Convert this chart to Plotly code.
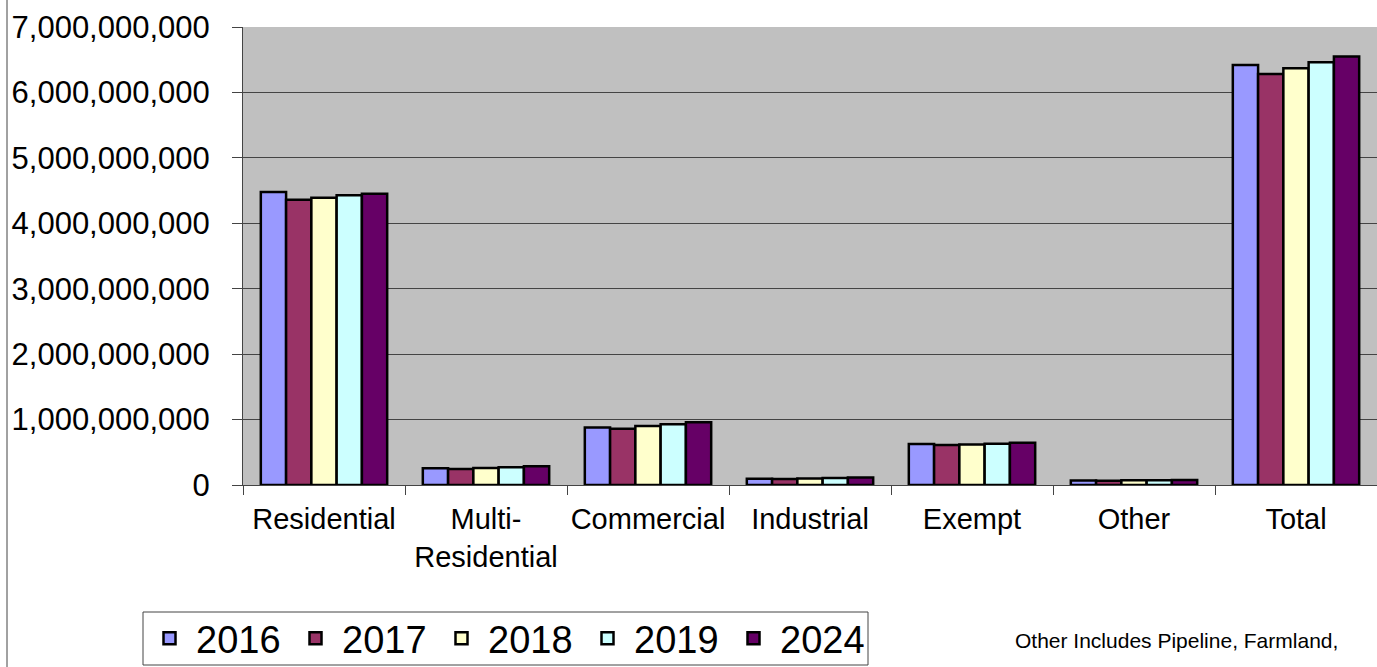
import plotly.graph_objects as go

categories = ["Residential", "Multi-<br>Residential", "Commercial", "Industrial", "Exempt", "Other", "Total"]
years = ["2016", "2017", "2018", "2019", "2024"]
v2016 = [4.48e9, 0.256e9, 0.88e9, 0.097e9, 0.626e9, 0.068e9, 6.42e9]
v2017 = [4.36e9, 0.246e9, 0.86e9, 0.092e9, 0.610e9, 0.066e9, 6.28e9]
v2018 = [4.39e9, 0.260e9, 0.90e9, 0.100e9, 0.620e9, 0.072e9, 6.37e9]
v2019 = [4.43e9, 0.270e9, 0.93e9, 0.108e9, 0.630e9, 0.073e9, 6.46e9]
v2024 = [4.45e9, 0.287e9, 0.96e9, 0.113e9, 0.645e9, 0.075e9, 6.55e9]
series = [v2016, v2017, v2018, v2019, v2024]
colors = ["#9999FF", "#993366", "#FFFFCC", "#CCFFFF", "#660066"]
ytickvals = [0, 1e9, 2e9, 3e9, 4e9, 5e9, 6e9, 7e9]
yticktext = ["0", "1,000,000,000", "2,000,000,000", "3,000,000,000", "4,000,000,000",
             "5,000,000,000", "6,000,000,000", "7,000,000,000"]

FONT = "Arial, Liberation Sans, sans-serif"
PW = 1134.0
PH = 458.0

def px_x(x):
    return (x - 243) / PW

def px_y(y):
    return (485 - y) / PH

fig = go.Figure()
for name, vals, c in zip(years, series, colors):
    fig.add_trace(go.Bar(x=categories, y=vals, name=name,
                         marker=dict(color=c, line=dict(color="black", width=2.5))))

fig.update_layout(
    width=1377, height=667,
    margin=dict(l=243, r=0, t=27, b=182, autoexpand=False),
    paper_bgcolor="white", plot_bgcolor="#C0C0C0",
    barmode="group", bargap=0.22, bargroupgap=0,
    font=dict(family=FONT, color="black"),
    showlegend=True,
    legend=dict(orientation="h", x=px_x(143), y=px_y(638.5), xanchor="left", yanchor="middle",
                font=dict(size=38, family=FONT), borderwidth=0,
                bgcolor="rgba(0,0,0,0)", traceorder="normal",
                itemwidth=43, entrywidth=88),
    xaxis=dict(showline=True, linecolor="#444444", linewidth=1, ticks="outside",
               tickson="boundaries", ticklen=9, tickcolor="#444444",
               ticklabelstandoff=8, tickangle=0,
               tickfont=dict(size=29, family=FONT), showgrid=False),
    yaxis=dict(range=[0, 7e9], tickvals=ytickvals, ticktext=yticktext,
               showline=True, linecolor="#444444", linewidth=1, ticks="outside",
               ticklen=10, tickcolor="#444444", ticklabelstandoff=16,
               tickfont=dict(size=31, family=FONT),
               showgrid=True, gridcolor="#444444", gridwidth=1, zeroline=False),
    annotations=[dict(text="Other Includes Pipeline, Farmland,", xref="paper", yref="paper",
                      x=px_x(1013), y=px_y(640), xanchor="left", yanchor="middle",
                      showarrow=False, font=dict(size=21, family=FONT))],
    shapes=[
        dict(type="line", xref="paper", yref="paper",
             x0=px_x(7), x1=px_x(7), y0=-1, y1=2,
             line=dict(color="#444444", width=1)),
        dict(type="rect", xref="paper", yref="paper", layer="below",
             x0=px_x(143), x1=px_x(868), y0=px_y(665), y1=px_y(612),
             fillcolor="white", line=dict(color="#444444", width=1)),
    ],
)

fig.write_html("out.html")
